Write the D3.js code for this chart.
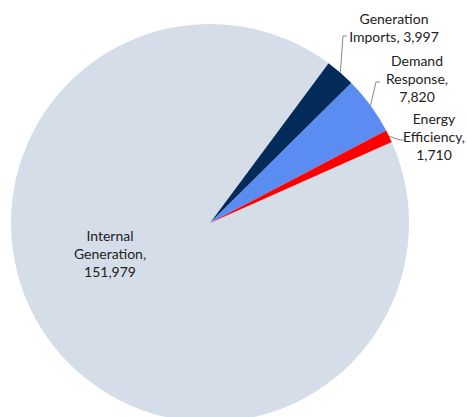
<!DOCTYPE html>
<html>
<head>
<meta charset="utf-8">
<script src="https://cdn.jsdelivr.net/npm/d3@7"></script>
<style>
  html, body { margin: 0; padding: 0; background: #fff; }
  text { font-family: Lato, "Open Sans", sans-serif; font-size: 14px; fill: #222; }
</style>
</head>
<body>
<div id="chart"></div>
<script>
const categories = ["Internal Generation", "Generation Imports", "Demand Response", "Energy Efficiency"];
const values = [151979, 3997, 7820, 1710];
const colors = ["#d5dde9", "#032b5a", "#5a8cf2", "#fe0000"];
// label lines as shown, split per category
const labelLines = [
  ["Internal", "Generation,", "151,979"],
  ["Generation", "Imports, 3,997"],
  ["Demand", "Response,", "7,820"],
  ["Energy", "Efficiency,", "1,710"]
];

const width = 467, height = 417;
const cx = 210, cy = 223, r = 199;

const data = categories.map((c, i) => ({name: c, value: values[i], color: colors[i], lines: labelLines[i]}));

const svg = d3.select("#chart").append("svg")
  .attr("width", width).attr("height", height);

const g = svg.append("g").attr("transform", `translate(${cx},${cy})`);

const start = 66 * Math.PI / 180;
const pie = d3.pie().value(d => d.value).sort(null)
  .startAngle(start).endAngle(start + 2 * Math.PI);
const arcs = pie(data);
const arc = d3.arc().innerRadius(0).outerRadius(r);
const edge = d3.arc().innerRadius(r).outerRadius(r);

g.selectAll("path.slice")
  .data(arcs)
  .enter().append("path")
  .attr("class", "slice")
  .attr("d", arc)
  .attr("fill", d => d.data.color);

// label placement (relative to centre): [x, y of first line, leader end]
const placement = [
  {x: -100, y: 18, leader: null},
  {x: 184, y: -199, leader: [133, -187, 136, -187]},
  {x: 207, y: -157, leader: [166, -141, 170, -141]},
  {x: 224, y: -99, leader: [190, -83, 180, -85]}
];

arcs.forEach((d, i) => {
  const p = placement[i];
  if (p.leader) {
    const [sx, sy] = edge.centroid(d);
    g.append("path")
      .attr("d", d3.line()([[sx, sy], [p.leader[0], p.leader[1]], [p.leader[0] + 4, p.leader[1]]]))
      .attr("fill", "none")
      .attr("stroke", "#888")
      .attr("stroke-width", 1);
  }
  const t = g.append("text").attr("text-anchor", "middle");
  d.data.lines.forEach((ln, j) => {
    t.append("tspan").attr("x", p.x).attr("y", p.y + j * 18).text(ln);
  });
});
</script>
</body>
</html>
